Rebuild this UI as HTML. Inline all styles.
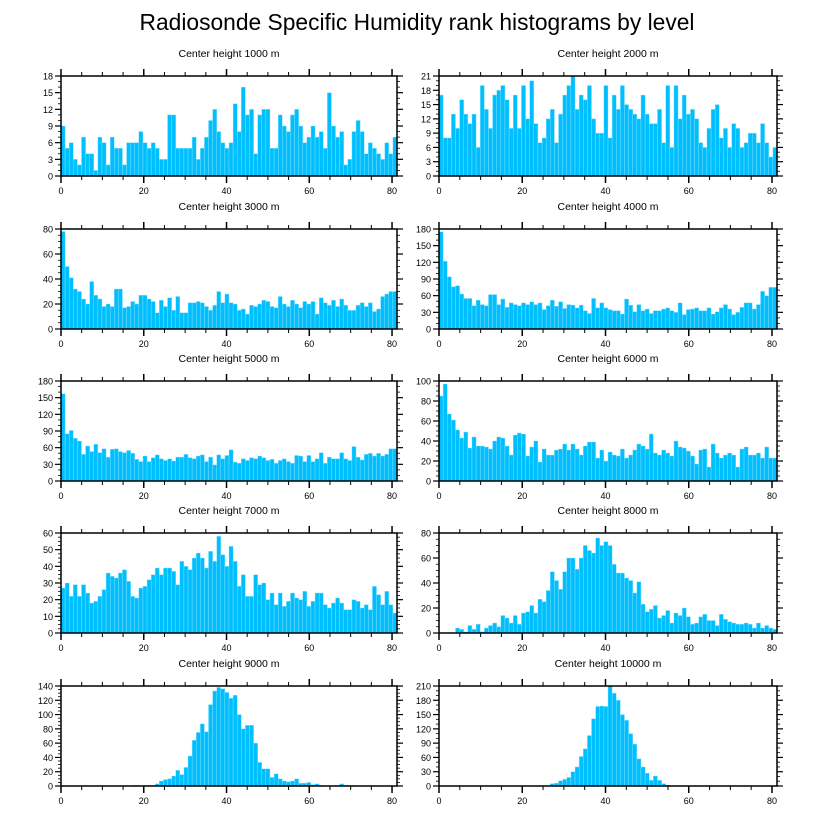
<!DOCTYPE html>
<html><head><meta charset="utf-8"><style>
html,body{margin:0;padding:0;background:#fff;}
svg{display:block;font-family:"Liberation Sans",sans-serif;}
</style></head><body>
<svg id="chart" width="816" height="824" viewBox="0 0 816 824">
<text x="417" y="30" text-anchor="middle" font-size="22.8">Radiosonde Specific Humidity rank histograms by level</text>
</svg>
<script>
const titles = ["Center height 1000 m","Center height 2000 m","Center height 3000 m","Center height 4000 m","Center height 5000 m","Center height 6000 m","Center height 7000 m","Center height 8000 m","Center height 9000 m","Center height 10000 m"];
const yMaxes = [18,21,80,180,180,100,60,80,140,210];
const yStepsMajor = [3,3,20,30,30,20,10,20,20,30];
const xTicks = [0,20,40,60,80];
const h1000 = [9,5,6,3,2,7,4,4,1,7,6,2,7,5,5,2,6,6,6,8,6,5,6,5,3,3,11,11,5,5,5,5,7,3,5,7,10,12,8,6,5,6,13,8,16,11,12,4,11,12,12,5,5,11,9,8,11,12,9,6,7,9,7,8,5,15,9,7,8,2,3,8,10,8,4,6,5,4,3,6,4,7];
const h2000 = [17,8,8,13,10,16,13,11,13,6,19,14,10,17,18,19,16,10,17,10,19,12,20,11,7,8,12,14,7,13,17,19,21,14,17,16,19,12,9,9,19,8,17,14,19,15,14,13,12,17,13,11,11,14,7,19,6,19,12,17,13,14,12,7,6,10,14,15,8,10,6,11,10,6,7,9,9,7,11,7,4,6];
const h3000 = [78,50,41,32,30,24,20,38,27,24,18,20,18,32,32,17,18,22,20,27,27,24,22,13,23,18,25,15,26,13,13,21,21,22,21,18,15,19,30,21,28,21,20,15,16,12,19,18,20,23,22,18,17,26,20,18,23,20,17,22,20,22,12,25,21,19,23,18,24,19,15,15,19,21,18,21,14,16,26,28,30,30];
const h4000 = [175,122,94,76,78,63,55,55,42,52,44,42,62,62,44,54,39,47,44,42,47,44,49,44,47,35,42,52,41,49,37,44,43,38,43,33,28,55,38,47,38,35,33,33,27,54,43,31,44,33,36,28,33,33,36,38,33,30,47,26,35,36,38,33,33,38,27,31,38,44,36,26,30,39,47,47,36,44,68,60,75,75];
const h5000 = [157,85,91,77,72,48,63,53,66,51,58,43,57,58,53,51,55,50,39,35,45,35,42,47,40,37,40,36,43,43,48,42,40,45,47,35,43,29,47,40,46,56,34,32,40,37,42,40,45,42,37,39,32,37,40,35,32,46,45,35,46,35,40,51,32,43,40,40,51,40,37,62,43,38,48,50,45,50,45,48,58,58];
const h6000 = [85,97,67,61,51,43,49,33,44,35,35,34,32,40,44,43,35,26,46,48,47,25,34,40,19,32,26,26,31,32,37,31,37,32,26,35,39,39,23,31,20,29,26,25,32,23,26,31,37,35,32,47,28,26,31,28,25,40,34,33,30,25,17,31,32,14,37,28,23,26,28,26,14,32,34,26,26,28,23,34,23,23];
const h7000 = [27,30,22,29,22,29,24,18,19,22,26,36,34,33,36,38,31,22,21,27,28,32,35,39,35,39,39,37,29,43,40,38,45,48,45,39,49,43,58,47,40,52,43,28,35,22,22,35,29,30,20,24,17,24,16,19,24,21,20,25,16,19,24,24,17,15,18,21,18,14,14,20,19,15,17,14,28,23,17,25,17,12];
const h8000 = [0,0,0,0,4,3,1,6,3,7,1,4,6,8,5,14,12,8,14,7,16,17,22,16,27,25,34,49,42,35,49,60,60,51,60,70,66,64,76,70,73,70,55,48,48,44,42,32,41,23,17,19,22,12,14,18,8,16,14,20,13,7,8,13,15,10,10,6,15,11,9,8,7,7,8,7,4,8,4,6,4,3];
const h9000 = [0,0,0,0,0,0,0,0,0,0,0,0,0,0,0,0,0,1,1,0,1,1,1,3,7,9,10,14,22,16,26,42,64,75,87,76,114,133,138,136,131,123,127,100,80,85,85,60,33,24,24,12,17,10,7,6,7,10,4,4,5,2,3,1,0,0,0,1,3,1,1,1,0,0,0,0,0,0,0,0,0,0];
const h10000 = [0,0,0,0,0,0,0,0,0,0,0,0,0,0,0,0,0,0,0,0,0,0,0,0,1,1,0,5,6,11,14,18,30,40,62,78,106,141,167,168,167,210,195,180,150,138,110,88,57,40,27,12,21,12,5,2,1,1,0,1,0,0,0,0,0,0,0,0,0,0,0,0,0,0,0,0,0,0,0,0,0,0];
const allSeries = [h1000,h2000,h3000,h4000,h5000,h6000,h7000,h8000,h9000,h10000];

const NS = "http://www.w3.org/2000/svg";
const svg = document.getElementById("chart");
function mk(tag, attrs, parent){
  const e = document.createElementNS(NS, tag);
  for (const k in attrs) e.setAttribute(k, attrs[k]);
  (parent||svg).appendChild(e);
  return e;
}
const colX = [[61,397],[439,777]];
const rowTop = [76,229,381,533,686];
const plotH = 100;
const XMAX = 81.2;

for (let p = 0; p < 10; p++) {
  const col = p % 2, row = Math.floor(p/2);
  const [x0, x1] = colX[col];
  const y0 = rowTop[row], y1 = y0 + plotH;
  const ymax = yMaxes[p], step = yStepsMajor[p];
  const xs = v => x0 + (v / XMAX) * (x1 - x0);
  const ys = v => y1 - (v / ymax) * plotH;
  const g = mk("g", {});
  
  

  const t = mk("text", {x:(x0+x1)/2, y:y0-19, "text-anchor":"middle", "font-size":"10.5"}, g);
  
  
  t.textContent = titles[p];

  const data = allSeries[p];
  const bw = XMAX / data.length;
  data.forEach((v, i) => {
    if (v <= 0) return;
    const r = mk("rect", {x: xs(i*bw), y: ys(v), width: xs((i+1)*bw)-xs(i*bw), height: y1-ys(v), fill:"#00BFFF", stroke:"#8fe3ff", "stroke-width":"0.4"}, g);
    
    
  });

  const fr = mk("rect", {x:x0, y:y0, width:x1-x0, height:plotH, fill:"none", stroke:"#000", "stroke-width":"1.5"}, g);
  
  

  for (let v = 0; v <= 80; v += 5) {
    const major = v % 20 === 0;
    const L = major ? 7 : 4;
    const X = xs(v);
    mk("line", {x1:X, x2:X, y1:y1, y2:y1+L, stroke:"#000", "stroke-width": major?1.5:1}, g);
    mk("line", {x1:X, x2:X, y1:y0, y2:y0-L, stroke:"#000", "stroke-width": major?1.5:1}, g);
  }
  xTicks.forEach(v => {
    const tl = mk("text", {x: xs(v), y: y1+18, "text-anchor":"middle", "font-size":"9"}, g);
    
    
    tl.textContent = v;
  });
  const minorN = (step % 3 === 0 && step < 30) ? 3 : (step === 30 ? 3 : 4);
  for (let v = 0; v <= ymax + 1e-9; v += step / minorN) {
    const isMajor = Math.abs(v/step - Math.round(v/step)) < 1e-6;
    const L = isMajor ? 6 : 3;
    const Y = ys(v);
    mk("line", {x1:x0, x2:x0-L, y1:Y, y2:Y, stroke:"#000", "stroke-width": isMajor?1.2:0.8}, g);
    mk("line", {x1:x1, x2:x1+L, y1:Y, y2:Y, stroke:"#000", "stroke-width": isMajor?1.2:0.8}, g);
  }
  for (let v = 0; v <= ymax; v += step) {
    const tl = mk("text", {x: x0-8, y: ys(v)+3.5, "text-anchor":"end", "font-size":"9"}, g);
    
    
    tl.textContent = v;
  }
}
</script>
</body></html>
